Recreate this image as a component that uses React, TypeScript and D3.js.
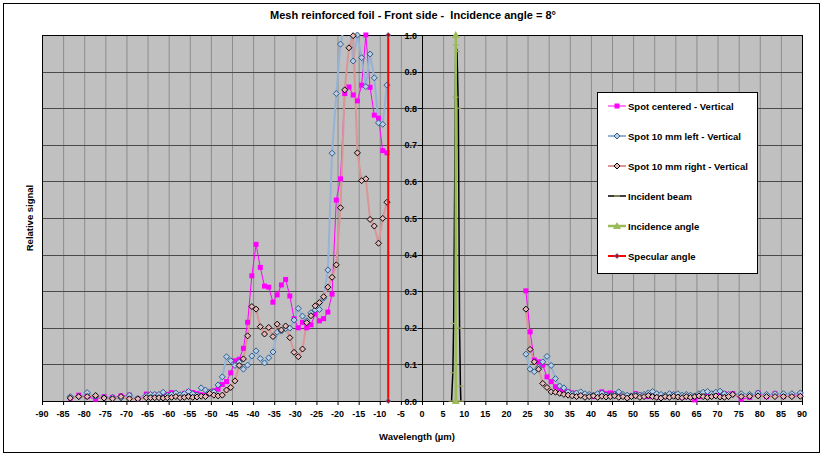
import React, { useEffect } from "react";
import * as d3 from "d3";

// measured angles (left lobe and right lobe)
const leftAngles = [
  -83.3, -81.3, -79.3, -77.3, -75.3, -73.3, -71.3, -69.3, -67.3, -65.3,
  -64.3, -63.3, -62.3, -61.3, -60.3, -59.3, -58.3, -57.3, -56.3, -55.3,
  -54.3, -53.3, -52.3, -51.3, -50.3, -49.3, -48.3, -47.3, -46.3, -45.3,
  -44.3, -43.3, -42.3, -41.3, -40.3, -39.3, -38.3, -37.3, -36.3, -35.3,
  -34.3, -33.3, -32.3, -31.3, -30.3, -29.3, -28.3, -27.3, -26.3, -25.3,
  -24.3, -23.3, -22.3, -21.3, -20.3, -19.3, -18.3, -17.3, -16.3, -15.3,
  -14.3, -13.3, -12.3, -11.3, -10.3, -9.3, -8.3,
];
const rightAngles = [
  24.6, 25.6, 26.6, 27.6, 28.6, 29.6, 30.6, 31.6, 32.6, 33.6,
  34.6, 35.6, 36.6, 37.6, 38.6, 39.6, 40.6, 41.6, 42.6, 43.6,
  44.6, 45.6, 46.6, 47.6, 48.6, 49.6, 50.6, 51.6, 52.6, 53.6,
  54.6, 55.6, 56.6, 57.6, 58.6, 59.6, 60.6, 61.6, 62.6, 63.6,
  64.6, 65.6, 66.6, 67.6, 68.6, 69.6, 70.6, 71.6, 72.6, 73.6,
  75.6, 77.6, 79.6, 81.6, 83.6, 85.6, 87.6, 89.6,
];

// Spot centered - Vertical
const centeredLeft = [
  0.008, 0.016, 0.012, 0.005, 0.012, 0.01, 0.014, 0.016, 0.006, 0.019,
  0.012, 0.016, 0.014, 0.013, 0.018, 0.023, 0.018, 0.014, 0.02, 0.025,
  0.023, 0.02, 0.017, 0.015, 0.02, 0.028, 0.032, 0.045, 0.053, 0.077,
  0.11, 0.114, 0.144, 0.215, 0.342, 0.428, 0.365, 0.314, 0.311, 0.27,
  0.29, 0.317, 0.332, 0.287, 0.225, 0.2, 0.215, 0.2, 0.208, 0.238,
  0.219, 0.225, 0.243, 0.292, 0.549, 0.607, 0.84, 0.858, 0.836, 0.82,
  0.863, 1.0, 0.857, 0.781, 0.773, 0.684, 0.678,
];
const centeredRight = [
  0.301, 0.189, 0.112, 0.107, 0.098, 0.066, 0.053, 0.039, 0.03, 0.027,
  0.025, 0.022, 0.018, 0.02, 0.016, 0.015, 0.012, 0.018, 0.025, 0.02,
  0.022, 0.02, 0.018, 0.015, 0.012, 0.014, 0.02, 0.016, 0.015, 0.012,
  0.018, 0.013, 0.01, 0.012, 0.015, 0.018, 0.012, 0.01, 0.014, 0.012,
  0.003, 0.012, 0.02, 0.018, 0.015, 0.02, 0.017, 0.02, 0.015, 0.02,
  0.005, 0.01, 0.022, 0.012, 0.02, 0.012, 0.015, 0.018,
];

// Spot 10 mm left - Vertical
const leftSpotLeft = [
  0.012, 0.012, 0.023, 0.012, 0.01, 0.01, 0.008, 0.016, 0.006, 0.015,
  0.018, 0.018, 0.018, 0.024, 0.015, 0.018, 0.022, 0.017, 0.02, 0.026,
  0.02, 0.016, 0.036, 0.03, 0.025, 0.025, 0.044, 0.066, 0.121, 0.11,
  0.097, 0.106, 0.087, 0.098, 0.123, 0.137, 0.116, 0.104, 0.118, 0.134,
  0.188, 0.191, 0.198, 0.199, 0.221, 0.253, 0.232, 0.219, 0.241, 0.249,
  0.25, 0.281, 0.358, 0.677, 0.84, 0.975, 1.03, 1.06, 0.929, 1.0,
  0.938, 0.859, 0.948, 0.883, 0.76, 0.756, 0.863,
];
const leftSpotRight = [
  0.128, 0.087, 0.08, 0.092, 0.107, 0.122, 0.097, 0.061, 0.041, 0.036,
  0.025, 0.02, 0.022, 0.025, 0.02, 0.018, 0.016, 0.02, 0.022, 0.016,
  0.015, 0.018, 0.025, 0.018, 0.016, 0.014, 0.018, 0.016, 0.018, 0.022,
  0.026, 0.02, 0.018, 0.016, 0.02, 0.018, 0.02, 0.016, 0.018, 0.016,
  0.014, 0.02, 0.024, 0.026, 0.02, 0.024, 0.027, 0.02, 0.018, 0.018,
  0.02, 0.018, 0.022, 0.018, 0.02, 0.02, 0.02, 0.022,
];

// Spot 10 mm right - Vertical
const rightSpotLeft = [
  0.008, 0.012, 0.012, 0.015, 0.008, 0.006, 0.012, 0.006, 0.006, 0.009,
  0.009, 0.009, 0.009, 0.008, 0.009, 0.01, 0.012, 0.009, 0.01, 0.012,
  0.01, 0.011, 0.013, 0.012, 0.021, 0.016, 0.014, 0.016, 0.03, 0.037,
  0.055, 0.097, 0.115, 0.178, 0.258, 0.251, 0.203, 0.183, 0.201, 0.176,
  0.21, 0.194, 0.205, 0.173, 0.133, 0.121, 0.142, 0.214, 0.233, 0.26,
  0.269, 0.285, 0.311, 0.338, 0.372, 0.528, 0.85, 0.965, 0.998, 0.678,
  0.602, 0.607, 0.496, 0.478, 0.431, 0.499, 0.543,
];
const rightSpotRight = [
  0.251, 0.141, 0.107, 0.087, 0.048, 0.037, 0.025, 0.024, 0.021, 0.018,
  0.016, 0.014, 0.012, 0.015, 0.01, 0.012, 0.014, 0.01, 0.013, 0.011,
  0.012, 0.014, 0.01, 0.012, 0.008, 0.012, 0.014, 0.01, 0.012, 0.015,
  0.012, 0.01, 0.008, 0.012, 0.01, 0.013, 0.011, 0.009, 0.012, 0.01,
  0.012, 0.014, 0.012, 0.01, 0.012, 0.014, 0.011, 0.01, 0.012, 0.018,
  0.012, 0.013, 0.014, 0.012, 0.012, 0.012, 0.012, 0.013,
];

// Incident beam
const beamAngles = [7.0, 7.3, 7.5, 7.9, 8.0, 8.3, 8.6, 8.9, 9.1, 9.2];
const beamValues = [0.0, 0.077, 0.212, 0.83, 0.973, 0.955, 0.8, 0.199, 0.041, 0.0];

// Incidence / specular angle markers
const incidenceAngles = [8, 8];
const incidenceValues = [0, 1];
const specularAngles = [-8, -8];
const specularValues = [0, 1];

const xTicks = [
  -90, -85, -80, -75, -70, -65, -60, -55, -50, -45, -40, -35, -30, -25, -20, -15, -10, -5,
  0, 5, 10, 15, 20, 25, 30, 35, 40, 45, 50, 55, 60, 65, 70, 75, 80, 85, 90,
];
const yTicks = [0, 0.1, 0.2, 0.3, 0.4, 0.5, 0.6, 0.7, 0.8, 0.9, 1.0];

const legendNames = [
  "Spot centered - Vertical",
  "Spot 10 mm left - Vertical",
  "Spot 10 mm right - Vertical",
  "Incident beam",
  "Incidence angle",
  "Specular angle",
];

const W = 824;
const H = 456;
const FONT = "'Liberation Sans', Arial, sans-serif";

const diamond = "M0,-3L3,0L0,3L-3,0Z";

export default function App() {
  useEffect(() => {
    document.body.style.margin = "0";
  }, []);

  const plot = { left: 42, right: 802, top: 35, bottom: 401 };
  const x = d3.scaleLinear().domain([-90, 90]).range([plot.left, plot.right]);
  const y = d3.scaleLinear().domain([0, 1]).range([plot.bottom, plot.top]);
  const line = d3
    .line<[number, number]>()
    .x((d) => x(d[0]))
    .y((d) => y(d[1]));

  const zip = (a: number[], b: number[]) => a.map((v, i) => [v, b[i]] as [number, number]);

  const spots = [
    {
      name: legendNames[0],
      color: "#FF00FF",
      width: 1,
      segs: [zip(leftAngles, centeredLeft), zip(rightAngles, centeredRight)],
      marker: "square",
    },
    {
      name: legendNames[1],
      color: "#95B3D7",
      width: 2,
      segs: [zip(leftAngles, leftSpotLeft), zip(rightAngles, leftSpotRight)],
      marker: "blue",
    },
    {
      name: legendNames[2],
      color: "#D99694",
      width: 2,
      segs: [zip(leftAngles, rightSpotLeft), zip(rightAngles, rightSpotRight)],
      marker: "rose",
    },
  ];

  const drawMarker = (kind: string, cx: number, cy: number, key: string | number) => {
    if (kind === "square")
      return <rect key={key} x={cx - 2.5} y={cy - 2.5} width={5} height={5} fill="#FF00FF" />;
    if (kind === "blue")
      return (
        <path key={key} d={diamond} transform={`translate(${cx},${cy})`} fill="#B9CDE5" stroke="#2F5D8A" strokeWidth={1} />
      );
    if (kind === "rose")
      return (
        <path key={key} d={diamond} transform={`translate(${cx},${cy})`} fill="#E6B9B8" stroke="#000" strokeWidth={1} />
      );
    if (kind === "dash")
      return <line key={key} x1={cx - 3} x2={cx + 3} y1={cy} y2={cy} stroke="#A6A96A" strokeWidth={1.2} />;
    if (kind === "triangle")
      return <path key={key} d="M0,-4L4,3L-4,3Z" transform={`translate(${cx},${cy})`} fill="#9BBB59" />;
    if (kind === "red")
      return (
        <path key={key} d="M0,-2.5L2.5,0L0,2.5L-2.5,0Z" transform={`translate(${cx},${cy})`} fill="#C00000" stroke="#4F81BD" strokeWidth={0.8} />
      );
    return null;
  };

  const beam = zip(beamAngles, beamValues);
  const incidence = zip(incidenceAngles, incidenceValues);
  const specular = zip(specularAngles, specularValues);

  const legend = { x: 597, y: 92, w: 160, h: 181 };
  const legendItems = [
    { color: "#FF00FF", width: 1, marker: "square" },
    { color: "#95B3D7", width: 2, marker: "blue" },
    { color: "#D99694", width: 2, marker: "rose" },
    { color: "#000000", width: 1.5, marker: "dash" },
    { color: "#9BBB59", width: 2.5, marker: "triangle" },
    { color: "#FF0000", width: 2, marker: "red" },
  ];

  return (
    <svg width={W} height={H} style={{ display: "block", fontFamily: FONT }}>
      <rect x={0} y={0} width={W} height={H} fill="#fff" />
      <rect x={3.5} y={3.5} width={816} height={449} fill="none" stroke="#000" strokeWidth={1} />
      <defs>
        <clipPath id="plotClip">
          <rect x={plot.left} y={plot.top} width={plot.right - plot.left} height={plot.bottom - plot.top} />
        </clipPath>
      </defs>

      {/* plot background */}
      <rect x={plot.left} y={plot.top} width={plot.right - plot.left} height={plot.bottom - plot.top} fill="#C0C0C0" />

      {/* grid */}
      {xTicks.map((t) => (
        <line key={"gx" + t} x1={x(t) + 0.5} x2={x(t) + 0.5} y1={plot.top} y2={plot.bottom} stroke="#8C8C8C" strokeWidth={1} />
      ))}
      {yTicks.map((t) => (
        <line key={"gy" + t} x1={plot.left} x2={plot.right} y1={Math.round(y(t)) + 0.5} y2={Math.round(y(t)) + 0.5} stroke="#4A4A4A" strokeWidth={1} />
      ))}
      <rect x={plot.left + 0.5} y={plot.top + 0.5} width={plot.right - plot.left} height={plot.bottom - plot.top} fill="none" stroke="#000" strokeWidth={1} />

      {/* y axis at x = 0 */}
      <line x1={x(0) + 0.5} x2={x(0) + 0.5} y1={plot.top} y2={plot.bottom} stroke="#000" strokeWidth={1} />
      {yTicks.map((t) => (
        <g key={"yt" + t}>
          <line x1={x(0) - 4} x2={x(0)} y1={Math.round(y(t)) + 0.5} y2={Math.round(y(t)) + 0.5} stroke="#000" />
          <text x={x(0) - 5} y={y(t) + 3.5} textAnchor="end" fontSize={9} fontWeight="bold" fill="#000">
            {t.toFixed(1)}
          </text>
        </g>
      ))}

      {/* x axis */}
      <line x1={plot.left} x2={plot.right} y1={plot.bottom + 0.5} y2={plot.bottom + 0.5} stroke="#000" />
      {xTicks.map((t) => (
        <g key={"xt" + t}>
          <line x1={x(t) + 0.5} x2={x(t) + 0.5} y1={plot.bottom} y2={plot.bottom + 4} stroke="#000" />
          <text x={x(t)} y={plot.bottom + 16} textAnchor="middle" fontSize={9} fontWeight="bold" fill="#000">
            {t}
          </text>
        </g>
      ))}

      {/* series lines */}
      <g clipPath="url(#plotClip)">
        {spots.map((s) =>
          s.segs.map((seg, i) => (
            <path key={s.name + i} d={line(seg) || ""} fill="none" stroke={s.color} strokeWidth={s.width} strokeLinejoin="round" />
          ))
        )}
      </g>
      {spots.map((s) =>
        s.segs.map((seg, i) =>
          seg.filter((d) => d[1] <= 1).map((d, j) => drawMarker(s.marker, x(d[0]), y(d[1]), s.name + i + "-" + j))
        )
      )}

      {/* incident beam */}
      <path d={line(beam) || ""} fill="none" stroke="#000" strokeWidth={1.5} />
      {beam.map((d, i) => drawMarker("dash", x(d[0]), y(d[1]), "b" + i))}

      {/* incidence angle */}
      <path d={line(incidence) || ""} fill="none" stroke="#9BBB59" strokeWidth={2.5} />
      {incidence.map((d, i) => drawMarker("triangle", x(d[0]), y(d[1]), "i" + i))}

      {/* specular angle */}
      <path d={line(specular) || ""} fill="none" stroke="#FF0000" strokeWidth={2} />
      {specular.map((d, i) => drawMarker("red", x(d[0]), y(d[1]), "s" + i))}

      {/* legend */}
      <rect x={legend.x + 0.5} y={legend.y + 0.5} width={legend.w} height={legend.h} fill="#fff" stroke="#000" strokeWidth={1} />
      {legendNames.map((n, i) => {
        const ly = legend.y + 14 + i * 30;
        const it = legendItems[i];
        return (
          <g key={"lg" + i}>
            <line x1={legend.x + 11} x2={legend.x + 29} y1={ly} y2={ly} stroke={it.color} strokeWidth={it.width} />
            {drawMarker(it.marker, legend.x + 20, ly, "lm" + i)}
            <text x={legend.x + 31} y={ly + 3.5} fontSize={9.5} fontWeight="bold" fill="#000">
              {n}
            </text>
          </g>
        );
      })}

      {/* titles */}
      <text x={413} y={19} textAnchor="middle" fontSize={11} fontWeight="bold" style={{ whiteSpace: "pre" }}>
        {"Mesh reinforced foil - Front side -  Incidence angle = 8°"}
      </text>
      <text x={417} y={440} textAnchor="middle" fontSize={9.5} fontWeight="bold">
        Wavelength (µm)
      </text>
      <text transform="translate(33,218) rotate(-90)" textAnchor="middle" fontSize={9.5} fontWeight="bold">
        Relative signal
      </text>
    </svg>
  );
}
